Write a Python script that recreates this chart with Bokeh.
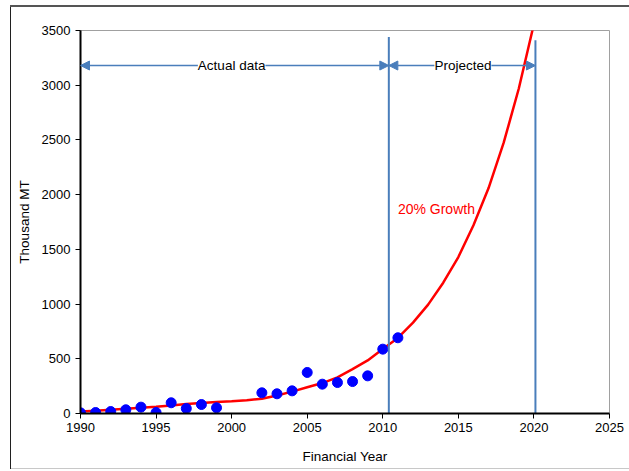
from bokeh.plotting import figure
from bokeh.models import Range1d, Arrow, NormalHead, Label, FixedTicker, ColumnDataSource
from bokeh.embed import file_html
from bokeh.resources import INLINE

# Observed data (Thousand MT)
years = [1990, 1991, 1992, 1993, 1994, 1995, 1996, 1997, 1998, 1999,
         2002, 2003, 2004, 2005, 2006, 2007, 2008, 2009, 2010, 2011]
values = [6, 9, 18, 34, 58, 9, 98, 46, 82, 52,
          189, 180, 207, 375, 268, 283, 292, 344, 588, 692]

# 20% growth trend line
trend_years = [1990, 1991, 1992, 1993, 1994, 1995, 1996, 1997, 1998, 1999,
               2000, 2001, 2002, 2003, 2004, 2005, 2006, 2007, 2008, 2009,
               2010, 2011, 2012, 2013, 2014, 2015, 2016, 2017, 2018, 2019, 2020]
trend_values = [18, 26, 34, 43, 52, 62, 74, 86, 97, 105,
                112, 122, 134, 165, 200, 240, 278, 330, 405, 485,
                590, 690, 830, 995, 1195, 1430, 1720, 2060, 2475, 2970, 3560]

x_ticks = [1990, 1995, 2000, 2005, 2010, 2015, 2020, 2025]
y_ticks = [0, 500, 1000, 1500, 2000, 2500, 3000, 3500]

actual_end = 2010.4
projected_end = 2020.1
arrow_level = 3180

FONT = "Liberation Sans"
BLUE = "#4A7EBB"

# outer chart box drawn as CSS background lines behind a transparent canvas border
box_css = {
    "background-color": "white",
    "background-image": ("linear-gradient(#555555,#555555), linear-gradient(#202020,#202020), "
                         "linear-gradient(#c8c8c8,#c8c8c8)"),
    "background-size": "619px 2px, 1px 464px, 619px 1px",
    "background-position": "10px 5px, 10px 5px, 10px 468px",
    "background-repeat": "no-repeat",
}

p = figure(width=629, height=471, output_backend="svg", toolbar_location=None,
           x_range=Range1d(1990, 2025), y_range=Range1d(0, 3500),
           min_border_left=80, min_border_right=20, min_border_top=30, min_border_bottom=58,
           styles=box_css)
p.background_fill_color = "white"
p.border_fill_alpha = 0
p.outline_line_color = "#A0A0A0"
p.outline_line_width = 1
p.xgrid.visible = False
p.ygrid.visible = False

for ax in (p.xaxis[0], p.yaxis[0]):
    ax.axis_line_color = "black"
    ax.axis_line_width = 2
    ax.major_tick_line_color = "black"
    ax.major_tick_line_width = 1
    ax.major_tick_out = 5
    ax.major_tick_in = 0
    ax.minor_tick_line_color = None
    ax.major_label_text_font = FONT
    ax.major_label_text_font_size = "13px"
    ax.major_label_text_color = "black"
    ax.axis_label_text_font = FONT
    ax.axis_label_text_font_size = "13.5px"
    ax.axis_label_text_font_style = "normal"
    ax.axis_label_text_color = "black"

p.xaxis.ticker = FixedTicker(ticks=x_ticks)
p.yaxis.ticker = FixedTicker(ticks=y_ticks)
p.xaxis.axis_label = "Financial Year"
p.yaxis.axis_label = "Thousand MT"
p.xaxis.major_label_standoff = 4
p.yaxis.major_label_standoff = 5
p.xaxis.axis_label_standoff = 14
p.yaxis.axis_label_standoff = 7

# trend line
p.line(trend_years, trend_values, line_color="#FF0000", line_width=2.5)

# data points
p.scatter(years, values, size=10, fill_color="#0000FF", line_color="#0000FF")

# vertical dividers
seg = ColumnDataSource(dict(x0=[actual_end, projected_end], y0=[0, 0],
                            x1=[actual_end, projected_end], y1=[3440, 3410]))
p.segment("x0", "y0", "x1", "y1", source=seg, line_color=BLUE, line_width=2)

# horizontal arrows
for a, b in [(1990, actual_end), (actual_end, projected_end)]:
    p.add_layout(Arrow(x_start=a, y_start=arrow_level, x_end=b, y_end=arrow_level,
                       line_color=BLUE, line_width=1.5,
                       start=NormalHead(size=9, fill_color=BLUE, line_color=BLUE),
                       end=NormalHead(size=9, fill_color=BLUE, line_color=BLUE)))

p.add_layout(Label(x=2000, y=arrow_level, text="Actual data", text_align="center",
                   text_baseline="middle", text_font=FONT, text_font_size="13.5px",
                   text_color="black", background_fill_color="white"))
p.add_layout(Label(x=2015.3, y=arrow_level, text="Projected", text_align="center",
                   text_baseline="middle", text_font=FONT, text_font_size="13.5px",
                   text_color="black", background_fill_color="white"))
p.add_layout(Label(x=2011.0, y=1870, text="20% Growth", text_align="left",
                   text_baseline="middle", text_font=FONT, text_font_size="14px",
                   text_color="#FF0000"))

open("out.html", "w").write(file_html(p, INLINE))
